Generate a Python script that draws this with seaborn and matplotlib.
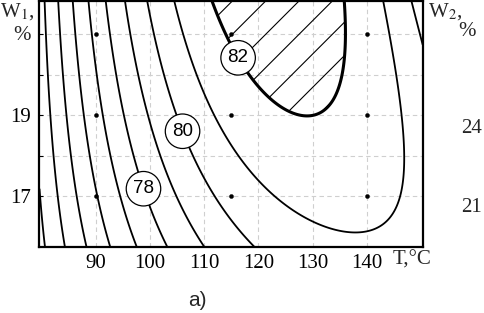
import numpy as np
import matplotlib
matplotlib.use("Agg")
import matplotlib.pyplot as plt
import seaborn as sns

# --- Data ---

# contour traces: level, temperature (T, C), moisture W1 (%)
trace_level = [73, 73,
               74, 74, 74, 74, 74,
               75, 75, 75, 75, 75,
               76, 76, 76, 76, 76,
               77, 77, 77, 77, 77,
               78, 78, 78, 78, 78, 78,
               79, 79, 79, 79, 79,
               80, 80, 80, 80, 80, 80, 80, 80, 80, 80,
               81, 81, 81, 81, 81, 81, 81, 81, 81, 81, 81, 81,
               82, 82, 82, 82, 82, 82, 82, 82, 82]
trace_T = [79.85, 80.22,
           80.41, 81.33, 82.25, 83.17, 84.10,
           82.99, 83.91, 85.02, 86.68, 88.52,
           85.76, 86.68, 88.15, 90.37, 92.77,
           88.52, 89.63, 91.85, 94.98, 97.75,
           91.85, 93.14, 95.54, 97.56, 99.96, 102.92,
           95.54, 98.12, 101.44, 108.27, 110.11,
           99.78, 101.25, 102.36, 104.76, 107.34, 111.59, 116.57, 119.15, 148.3, 150.33,
           104.39, 106.8, 111.59, 116.57, 122.66, 129.48, 137.23, 144.24, 145.72, 146.46, 144.8, 143.32,
           111.59, 114.72, 118.41, 122.66, 127.08, 131.88, 135.39, 135.94, 135.94]
trace_W1 = [16.91, 15.76,
            21.82, 20.18, 18.56, 16.91, 15.76,
            21.82, 20.18, 18.56, 16.91, 15.76,
            21.82, 20.18, 18.56, 16.91, 15.76,
            21.82, 20.18, 18.56, 16.91, 15.76,
            21.82, 20.18, 18.56, 17.58, 16.91, 15.76,
            21.82, 19.79, 17.58, 16.18, 15.76,
            21.82, 20.84, 20.18, 18.95, 18.21, 17.16, 16.18, 15.76, 21.82, 20.6,
            21.82, 20.84, 19.2, 17.97, 17.23, 16.42, 16.01, 16.35, 16.84, 18.07, 20.18, 21.82,
            21.82, 20.84, 20.03, 19.29, 18.95, 18.95, 19.49, 20.35, 21.82]

# experimental design points
design_T = [90, 115, 140]
design_W1 = [17, 19, 21]

contour_levels = [73, 74, 75, 76, 77, 78, 79, 80, 81, 82]
labelled_levels = [78, 80, 82]

x_ticks = [90, 100, 110, 120, 130, 140]
y_ticks = [17, 18, 19, 20, 21]
y_ticklabels = ["17", "", "19", "", ""]
w2_ticks = [21, 24]
w2_range = (19.41, 28.78)

# --- Smooth response surface through the traces ---
tt = (np.array(trace_T) - 115) / 35
ww = (np.array(trace_W1) - 18.8) / 3
terms = [(i, j) for i in range(4) for j in range(4) if i + j <= 3]
A = np.column_stack([tt**i * ww**j for i, j in terms])
coef, *_ = np.linalg.lstsq(A, np.array(trace_level, dtype=float), rcond=None)

Tg, Wg = np.meshgrid(np.linspace(79.6, 150.3, 400), np.linspace(15.76, 21.82, 400))
tg = (Tg - 115) / 35
wg = (Wg - 18.8) / 3
Y = sum(c * tg**i * wg**j for c, (i, j) in zip(coef, terms))

# --- Plot ---
sns.set_style("white")
plt.rcParams["font.family"] = ["Liberation Serif", "DejaVu Serif"]
plt.rcParams["mathtext.fontset"] = "stix"
plt.rcParams["hatch.color"] = "black"
plt.rcParams["hatch.linewidth"] = 0.8

fig = plt.figure(figsize=(4.84, 3.13), dpi=100)
ax = fig.add_axes([0.0816, 0.2118, 0.7917, 0.785])

ax.set_xlim(79.6, 150.3)
ax.set_ylim(15.76, 21.82)
ax.set_xticks(x_ticks)
ax.set_yticks(y_ticks)
ax.set_yticklabels(y_ticklabels)
ax.grid(True, color="#cfcfcf", linestyle=(0, (4, 3)), linewidth=0.8)
ax.set_axisbelow(True)

# hatched region above 82
cf = ax.contourf(Tg, Wg, Y, levels=[82, 200], colors="none", hatches=["/"])
cf.set_edgecolor("black")
cf.set_linewidth(0)
cs = ax.contour(Tg, Wg, Y, levels=contour_levels, colors="black",
                linewidths=[1.3] * (len(contour_levels) - 1) + [2.2])

sns.scatterplot(x=np.repeat(design_T, 3), y=np.tile(design_W1, 3), ax=ax,
                color="black", s=9, edgecolor=None, legend=False, zorder=5)

# circled labels on 78, 80 and 82
cs_lab = ax.contour(Tg, Wg, Y, levels=labelled_levels, colors="black", linewidths=0)
labels = ax.clabel(cs_lab, fmt="%d", inline=False, fontsize=13.5,
                   manual=[(99.23, 17.21), (106.42, 18.63), (116.0, 20.40)])
for txt in labels:
    txt.set_family("Liberation Sans")
    txt.set_rotation(0)
    txt.set_bbox(dict(boxstyle="circle,pad=0.36", fc="white", ec="black", lw=0.9))
    txt.set_zorder(6)

for s in ax.spines.values():
    s.set_color("black")
    s.set_linewidth(1.6)
ax.tick_params(axis="both", labelsize=15, colors="black")
ax.tick_params(axis="y", direction="in", length=3, left=True, right=True, pad=6)
ax.tick_params(axis="x", length=0, pad=5)
ax.set_xlabel("")
ax.set_ylabel("")

# second moisture axis on the right
ax2 = ax.twinx()
ax2.set_ylim(*w2_range)
ax2.set_yticks(w2_ticks)
ax2.tick_params(axis="y", length=0, labelsize=15, pad=28)
for s in ax2.spines.values():
    s.set_visible(False)

fig.text(0.035, 0.962, "W$_1$,", fontsize=15, ha="center", va="center")
fig.text(0.045, 0.888, "%", fontsize=15, ha="center", va="center")
fig.text(0.919, 0.962, "W$_2$,", fontsize=15, ha="center", va="center")
fig.text(0.965, 0.9, "%", fontsize=15, ha="center", va="center")
fig.text(0.851, 0.169, "T,°C", fontsize=15, ha="center", va="center")
fig.text(0.407, 0.04, "a)", fontsize=15, ha="center", va="center", family="Liberation Sans")

fig.savefig("out.png", dpi=100)
